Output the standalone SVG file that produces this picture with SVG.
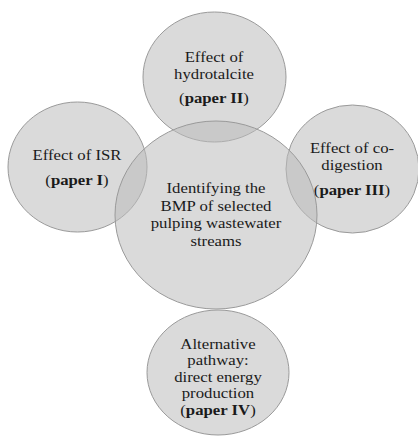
<svg xmlns="http://www.w3.org/2000/svg" width="418" height="437" viewBox="0 0 418 437">
<style>
.c{fill:#bcbcbc;fill-opacity:0.55;stroke:#9a9a9a;stroke-width:1}
text{font-family:"Liberation Serif","Times New Roman",serif;font-size:15.5px;fill:#1a1a1a;text-anchor:middle}
.b{font-weight:bold}
</style>
<rect width="418" height="437" fill="#ffffff"/>
<g id="node-top">
<ellipse class="c" cx="214.5" cy="77" rx="71.5" ry="65"/>
<g transform="translate(214 0) scale(1.08 1)">
<text x="0" y="62">Effect of</text>
<text x="0" y="79">hydrotalcite</text>
<text x="0" y="103">(<tspan class="b">paper II</tspan>)</text>
</g>
</g>
<g id="node-left">
<ellipse class="c" cx="77.5" cy="167" rx="69.5" ry="65"/>
<g transform="translate(77 0) scale(1.08 1)">
<text x="0" y="160">Effect of ISR</text>
<text x="0" y="185">(<tspan class="b">paper I</tspan>)</text>
</g>
</g>
<g id="node-right">
<ellipse class="c" cx="352.5" cy="169" rx="66.5" ry="64"/>
<g transform="translate(352 0) scale(1.08 1)">
<text x="0" y="153">Effect of co-</text>
<text x="0" y="170">digestion</text>
<text x="0" y="195">(<tspan class="b">paper III</tspan>)</text>
</g>
</g>
<g id="node-center">
<ellipse class="c" cx="216" cy="215" rx="101" ry="94"/>
<g transform="translate(216 0) scale(1.08 1)">
<text x="0" y="193">Identifying the</text>
<text x="0" y="211">BMP of selected</text>
<text x="0" y="228">pulping wastewater</text>
<text x="0" y="246">streams</text>
</g>
</g>
<g id="node-bottom">
<ellipse class="c" cx="218" cy="372.5" rx="71" ry="62.5"/>
<g transform="translate(218 0) scale(1.08 1)">
<text x="0" y="349">Alternative</text>
<text x="0" y="365">pathway:</text>
<text x="0" y="382">direct energy</text>
<text x="0" y="398">production</text>
<text x="0" y="415">(<tspan class="b">paper IV</tspan>)</text>
</g>
</g>
</svg>
